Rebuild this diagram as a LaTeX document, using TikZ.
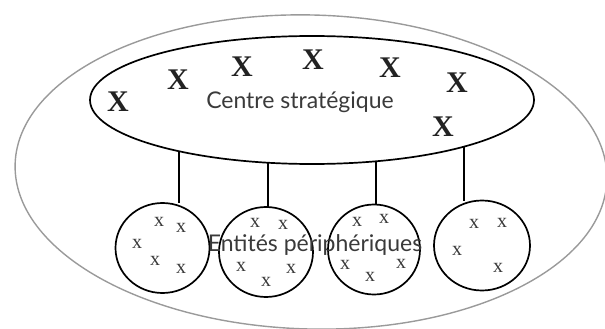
\documentclass[tikz,border=0pt]{standalone}
\usepackage{fontspec}
\usetikzlibrary{shapes.geometric}
\newfontfamily\labelfont{Lato}
\newfontfamily\markfont{Liberation Serif}
\definecolor{outergray}{HTML}{9A9A9A}
\definecolor{labelgray}{HTML}{3A3A3A}
\definecolor{markgray}{HTML}{222222}
\begin{document}
\begin{tikzpicture}[x=1pt,y=-1pt,
  outline/.style={line width=1.7pt,draw=black},
  entity/.style={outline,ellipse,inner sep=0pt,outer sep=0pt,minimum width=94pt,minimum height=90pt},
  bigmark/.style={inner sep=0pt,text=markgray,font=\markfont\bfseries\fontsize{30}{30}\selectfont},
  smallmark/.style={inner sep=0pt,text=labelgray,font=\markfont\fontsize{20}{20}\selectfont},
  caption/.style={inner sep=0pt,text=labelgray,font=\labelfont\fontsize{23}{23}\selectfont},
  link/.style={line width=2pt,draw=black}]
\useasboundingbox (0,0) rectangle (605,329);

% organisation boundary
\draw[outergray,line width=1.4pt,rotate around={-1.5:(311,172)}] (311,172) ellipse [x radius=296,y radius=157];

% strategic centre
\node[outline,ellipse,inner sep=0pt,outer sep=0pt,minimum width=444pt,minimum height=128pt] (centre) at (312,100) {};
\node[caption] (centrelabel) at (300,102) {Centre stratégique};

% strategic actors
\node[bigmark] (X1) at (118,102) {X};
\node[bigmark] (X2) at (178,80) {X};
\node[bigmark] (X3) at (242,67) {X};
\node[bigmark] (X4) at (313,60) {X};
\node[bigmark] (X5) at (390,68) {X};
\node[bigmark] (X6) at (457,83) {X};
\node[bigmark] (X7) at (443,127) {X};

% peripheral entities
\node[entity] (p1) at (162.5,248) {};
\node[entity] (p2) at (266,252) {};
\node[entity,minimum width=92pt] (p3) at (374,249.5) {};
\node[entity,minimum width=96pt] (p4) at (482,245.5) {};

% links from the centre down to each entity
\draw[link] (centre.-159.2) -- (centre.-159.2 |- p1.north);
\draw[link] (centre.-125.7) -- (centre.-125.7 |- p2.north);
\draw[link] (centre.-44.8) -- (centre.-44.8 |- p3.north);
\draw[link] (centre.-17.6) -- (centre.-17.6 |- p4.north);

% members of each entity
\node[smallmark] (a1) at (159,222) {x};
\node[smallmark] (a2) at (181,228) {x};
\node[smallmark] (a3) at (137,244) {x};
\node[smallmark] (a4) at (155,261) {x};
\node[smallmark] (a5) at (181,269) {x};

\node[smallmark] (b1) at (255,223) {x};
\node[smallmark] (b2) at (283,225) {x};
\node[smallmark] (b3) at (241,267) {x};
\node[smallmark] (b4) at (291,269) {x};
\node[smallmark] (b5) at (266,282) {x};

\node[smallmark] (c1) at (357,222) {x};
\node[smallmark] (c2) at (384,219) {x};
\node[smallmark] (c3) at (345,265) {x};
\node[smallmark] (c4) at (401,264) {x};
\node[smallmark] (c5) at (370,277) {x};

\node[smallmark] (d1) at (474,224) {x};
\node[smallmark] (d2) at (502,223) {x};
\node[smallmark] (d3) at (457,251) {x};
\node[smallmark] (d4) at (498,268) {x};

\node[caption] (periphlabel) at (315,245) {Entités périphériques};
\end{tikzpicture}
\end{document}
